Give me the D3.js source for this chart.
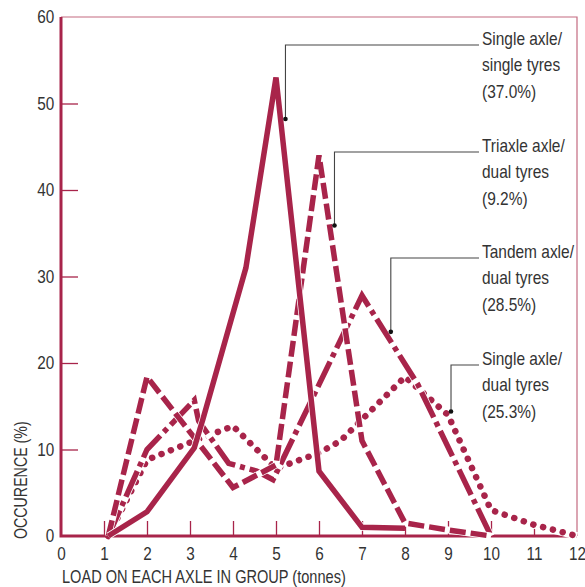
<!DOCTYPE html>
<html>
<head>
<meta charset="utf-8">
<script src="https://cdn.jsdelivr.net/npm/d3@7"></script>
<style>
  body { margin: 0; background: #fff; }
  text { font-family: "Liberation Sans", Arial, sans-serif; fill: #333; }
</style>
</head>
<body>
<div id="chart"></div>
<script>
// data (load in tonnes, occurence in %)
var ssLoad = [1.1, 2, 3.1, 3.3, 4.3, 5, 6, 7, 8];
var ssPct  = [0, 2.8, 10.2, 13.5, 31, 53, 7.5, 1, 0.9];

var triLoad = [1.1, 2, 4, 5, 6, 7, 8, 9, 10];
var triPct  = [0, 18.4, 5.6, 8.2, 44, 11, 1.5, 0.7, 0];

var tanLoad = [1.1, 2, 3.1, 3.2, 3.9, 4.55, 4.93, 7, 8.3, 10];
var tanPct  = [0, 10, 15.7, 13.3, 8.4, 7.5, 6.5, 27.8, 17.5, 0];

var sdLoad = [1.1, 2, 3.1, 4, 5, 6, 6.5, 8, 9, 10, 11, 12];
var sdPct  = [0, 8.8, 11, 12.7, 7.8, 9.6, 11, 18.4, 14, 3, 1.3, 0];

var xTicks = [0, 1, 2, 3, 4, 5, 6, 7, 8, 9, 10, 11, 12];
var yTicks = [0, 10, 20, 30, 40, 50, 60];

// labels: text lines + where the leader touches the line
var labels = [
  {lines: ["Single axle/", "single tyres", "(37.0%)"], at: [5.22, 48.2], top: 45},
  {lines: ["Triaxle axle/", "dual tyres", "(9.2%)"], at: [6.36, 35.9], top: 152},
  {lines: ["Tandem axle/", "dual tyres", "(28.5%)"], at: [7.67, 23.6], top: 258},
  {lines: ["Single axle/", "dual tyres", "(25.3%)"], at: [9.07, 14.4], top: 365}
];

var red = "#a8244a";

var margin = {top: 17, right: 8, bottom: 51, left: 61},
    width = 585 - margin.left - margin.right,
    height = 587 - margin.top - margin.bottom;

var svg = d3.select("#chart")
  .append("svg")
  .attr("width", 585)
  .attr("height", 587)
  .append("g")
  .attr("transform", "translate(" + margin.left + "," + margin.top + ")");

var x = d3.scaleLinear().domain([0, 12]).range([0, width]);
var y = d3.scaleLinear().domain([0, 60]).range([height, 0]);

// thin frame on top and right
svg.append("path")
  .attr("d", "M0,0H" + width + "V" + height)
  .attr("fill", "none")
  .attr("stroke", "#c46a80")
  .attr("stroke-width", 1.2);

// x axis
var xAxis = svg.append("g")
  .attr("transform", "translate(0," + height + ")")
  .call(d3.axisBottom(x).tickValues(xTicks).tickSize(-15).tickPadding(11).tickFormat(d3.format("d")));
xAxis.select(".domain").remove();
xAxis.selectAll(".tick line").attr("stroke", red).attr("stroke-width", 1.3)
  .filter(d => d == 0 || d == 12).remove();
xAxis.selectAll(".tick text")
  .style("font-size", "18px").attr("fill", "#333")
  .attr("transform", "scale(0.85,1)");

// y axis
var yAxis = svg.append("g")
  .call(d3.axisLeft(y).tickValues(yTicks).tickSize(-17).tickPadding(8));
yAxis.select(".domain").remove();
yAxis.selectAll(".tick line").attr("stroke", red).attr("stroke-width", 1.3)
  .filter(d => d == 0 || d == 60).remove();
yAxis.selectAll(".tick text")
  .style("font-size", "18px").attr("fill", "#333")
  .attr("transform", "scale(0.85,1)");

// thick left and bottom axis lines
svg.append("path")
  .attr("d", "M0,0V" + height + "H" + width)
  .attr("fill", "none")
  .attr("stroke", red)
  .attr("stroke-width", 3);

// axis titles
svg.append("text")
  .attr("transform", "translate(1," + (height + 47) + ") scale(0.81,1)")
  .style("font-size", "18px")
  .text("LOAD ON EACH AXLE IN GROUP (tonnes)");

svg.append("text")
  .attr("transform", "translate(-34," + (height + 3) + ") rotate(-90) scale(0.79,1)")
  .style("font-size", "18px")
  .text("OCCURENCE (%)");

// series
var line = d3.line().x(d => x(d[0])).y(d => y(d[1]));

var series = [
  {load: sdLoad, pct: sdPct, dash: "0.1,10", cap: "round", w: 6.5},
  {load: tanLoad, pct: tanPct, dash: "28,5,5,5", cap: "butt", w: 5.5},
  {load: triLoad, pct: triPct, dash: "16,5", cap: "butt", w: 5.5},
  {load: ssLoad, pct: ssPct, dash: null, cap: "butt", w: 5.5}
];

series.forEach(s => {
  var pts = s.load.map((l, i) => [l, s.pct[i]]);
  svg.append("path")
    .attr("d", line(pts))
    .attr("fill", "none")
    .attr("stroke", "#fff")
    .attr("stroke-width", s.w + 1.5)
    .attr("stroke-linejoin", "miter");
  svg.append("path")
    .attr("d", line(pts))
    .attr("fill", "none")
    .attr("stroke", red)
    .attr("stroke-width", s.w)
    .attr("stroke-linecap", s.cap)
    .attr("stroke-linejoin", "miter")
    .attr("stroke-dasharray", s.dash);
});

// leaders and labels
labels.forEach(lb => {
  var px = x(lb.at[0]), py = y(lb.at[1]), ty = lb.top - margin.top;
  svg.append("path")
    .attr("d", "M" + px + "," + py + "V" + ty + "H" + 418)
    .attr("fill", "none")
    .attr("stroke", "#444")
    .attr("stroke-width", 1.1);
  svg.append("circle")
    .attr("cx", px)
    .attr("cy", py)
    .attr("r", 2.3)
    .attr("fill", "#111");
  var t = svg.append("text")
    .attr("transform", "translate(421," + ty + ") scale(0.86,1)")
    .style("font-size", "18px");
  lb.lines.forEach((s, i) => {
    t.append("tspan").attr("x", 0).attr("dy", i == 0 ? 0 : 26.5).text(s);
  });
});
</script>
</body>
</html>
